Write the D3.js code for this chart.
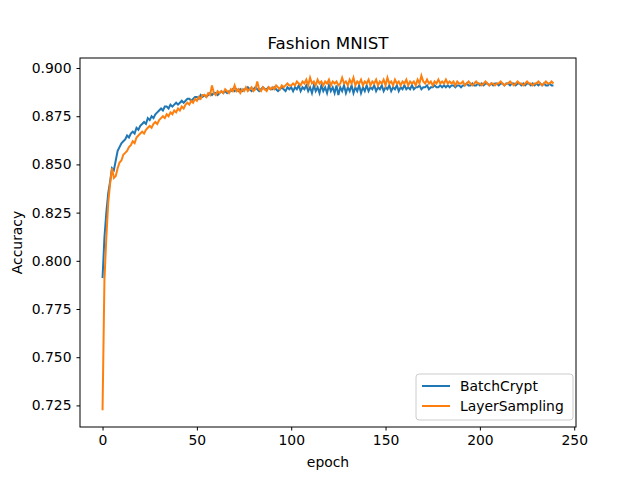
<!DOCTYPE html>
<html>
<head>
<meta charset="utf-8">
<script src="https://cdn.jsdelivr.net/npm/d3@7"></script>
<style>
  body { margin: 0; background: #fff; }
  text { font-family: "DejaVu Sans", sans-serif; }
</style>
</head>
<body>
<div id="chart"></div>
<script>
// accuracy per epoch
var batchCrypt = [
  .791,.812,.825,.835,.841,.848,.847,.852,.857,.859,
  .861,.862,.863,.865,.864,.866,.867,.866,.869,.868,
  .870,.871,.872,.871,.874,.873,.875,.874,.876,.877,
  .878,.879,.878,.880,.880,.879,.881,.880,.881,.882,
  .881,.882,.883,.882,.883,.884,.884,.883,.884,.885,
  .885,.884,.886,.885,.886,.885,.886,.887,.886,.887,
  .887,.886,.887,.888,.887,.888,.887,.888,.888,.889,
  .888,.889,.888,.889,.888,.889,.889,.890,.889,.888,
  .889,.890,.889,.888,.889,.890,.889,.889,.890,.889,
  .889,.890,.889,.888,.889,.890,.889,.888,.890,.889,
  .890,.888,.890,.889,.891,.888,.890,.889,.891,.888,
  .890,.887,.891,.888,.890,.887,.891,.888,.890,.887,
  .891,.888,.890,.887,.891,.886,.890,.888,.891,.887,
  .890,.888,.891,.887,.890,.888,.891,.887,.890,.888,
  .891,.888,.890,.889,.891,.888,.890,.889,.891,.888,
  .890,.889,.891,.888,.890,.889,.891,.888,.890,.889,
  .891,.889,.890,.889,.891,.889,.890,.890,.891,.889,
  .890,.890,.891,.889,.890,.890,.891,.890,.890,.891,
  .890,.891,.890,.891,.890,.891,.891,.890,.891,.891,
  .890,.891,.891,.892,.891,.891,.892,.891,.891,.892,
  .891,.892,.891,.892,.892,.891,.892,.891,.892,.892,
  .891,.892,.892,.891,.892,.892,.891,.892,.892,.891,
  .892,.892,.891,.892,.891,.892,.892,.891,.892,.891,
  .892,.891,.892,.891,.892,.891,.891,.892,.891,.891
];
var layerSampling = [
  .7225,.790,.812,.830,.840,.848,.843,.844,.848,.851,
  .852,.855,.856,.857,.859,.860,.862,.861,.864,.865,
  .866,.867,.866,.868,.869,.870,.869,.871,.872,.871,
  .873,.874,.875,.874,.876,.875,.877,.876,.878,.877,
  .879,.878,.880,.879,.881,.882,.881,.883,.882,.884,
  .883,.885,.884,.886,.886,.885,.887,.886,.891,.887,
  .886,.888,.887,.888,.887,.889,.888,.887,.889,.888,
  .891,.888,.889,.887,.889,.888,.890,.888,.889,.890,
  .888,.889,.893,.889,.888,.890,.889,.888,.890,.889,
  .890,.889,.891,.890,.889,.891,.890,.891,.892,.891,
  .891,.892,.891,.893,.892,.891,.893,.892,.894,.891,
  .895,.892,.893,.891,.894,.892,.893,.891,.893,.892,
  .894,.891,.893,.892,.893,.891,.892,.895,.892,.893,
  .891,.894,.892,.895,.891,.893,.892,.894,.891,.893,
  .892,.894,.891,.893,.892,.894,.891,.893,.892,.894,
  .891,.895,.892,.893,.891,.894,.892,.893,.891,.893,
  .892,.894,.891,.893,.892,.893,.891,.894,.892,.896,
  .893,.892,.894,.892,.893,.891,.893,.892,.894,.892,
  .893,.892,.894,.892,.893,.892,.893,.891,.893,.892,
  .892,.893,.891,.892,.893,.892,.891,.892,.893,.892,
  .892,.891,.892,.893,.892,.891,.892,.892,.891,.892,
  .892,.893,.892,.891,.892,.892,.893,.892,.891,.892,
  .893,.892,.892,.891,.892,.893,.892,.892,.891,.892,
  .892,.893,.892,.891,.892,.893,.892,.892,.893,.892
];
var seriesNames = ["BatchCrypt", "LayerSampling"];
var seriesColors = ["#1f77b4", "#ff7f0e"];
var xTicks = [0, 50, 100, 150, 200, 250];
var yTicks = [0.725, 0.750, 0.775, 0.800, 0.825, 0.850, 0.875, 0.900];

var svgWidth = 640, svgHeight = 480;
var margin = {top: 58, right: 64, bottom: 53, left: 80};
var w = svgWidth - margin.left - margin.right;
var h = svgHeight - margin.top - margin.bottom;

var svg = d3.select("#chart").append("svg")
    .attr("width", svgWidth)
    .attr("height", svgHeight);
var g = svg.append("g")
    .attr("transform", `translate(${margin.left},${margin.top})`);

var x = d3.scaleLinear().domain([-11.95, 250.95]).range([0, w]);
var y = d3.scaleLinear().domain([0.7138, 0.9052]).range([h, 0]);

var xAxis = g.append("g")
    .attr("transform", `translate(0,${h})`)
    .call(d3.axisBottom(x).tickValues(xTicks).tickSize(3.5).tickPadding(5));
var yAxis = g.append("g")
    .call(d3.axisLeft(y).tickValues(yTicks).tickFormat(d3.format(".3f")).tickSize(3.5).tickPadding(5));
[xAxis, yAxis].forEach(function(a) {
    a.select(".domain").remove();
    a.selectAll("text").attr("font-size", 13.9).attr("fill", "#000")
        .attr("font-family", "DejaVu Sans, sans-serif");
    a.selectAll("line").attr("stroke", "#000");
});

var line = d3.line().x((d, i) => x(i)).y(d => y(d));
[batchCrypt, layerSampling].forEach(function(s, k) {
    g.append("path").datum(s)
        .attr("d", line)
        .attr("fill", "none")
        .attr("stroke", seriesColors[k])
        .attr("stroke-width", 2);
});

g.append("rect").attr("width", w).attr("height", h)
    .attr("fill", "none").attr("stroke", "#000").attr("stroke-width", 1);

svg.append("text").attr("x", margin.left + w / 2).attr("y", 49)
    .attr("text-anchor", "middle").attr("font-size", 16.7).text("Fashion MNIST");
svg.append("text").attr("x", margin.left + w / 2).attr("y", 467)
    .attr("text-anchor", "middle").attr("font-size", 13.9).text("epoch");
svg.append("text").attr("transform", `translate(22,${margin.top + h / 2}) rotate(-90)`)
    .attr("text-anchor", "middle").attr("font-size", 13.9).text("Accuracy");

// legend, lower right
var lg = svg.append("g").attr("transform", "translate(416,374)");
lg.append("rect").attr("width", 157).attr("height", 46).attr("rx", 3)
    .attr("fill", "#fff").attr("fill-opacity", 0.8).attr("stroke", "#ccc");
seriesNames.forEach(function(n, k) {
    var yy = 12 + k * 20;
    lg.append("line").attr("x1", 6).attr("x2", 34).attr("y1", yy).attr("y2", yy)
        .attr("stroke", seriesColors[k]).attr("stroke-width", 2);
    lg.append("text").attr("x", 44).attr("y", yy + 5).attr("font-size", 13.9).text(n);
});
</script>
</body>
</html>
